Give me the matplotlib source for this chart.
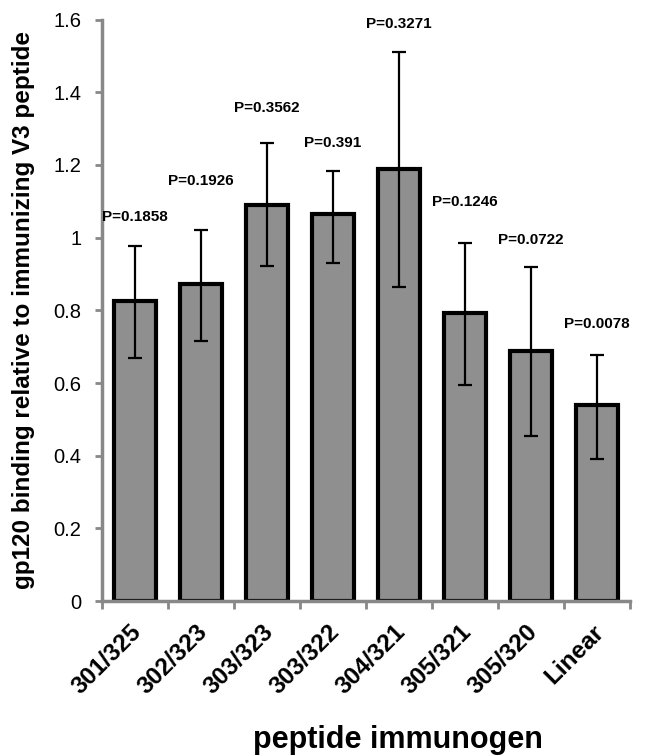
import numpy as np
import matplotlib.pyplot as plt

plt.rcParams['font.family'] = ['Liberation Sans', 'DejaVu Sans']

# data
peptides = ['301/325', '302/323', '303/323', '303/322', '304/321', '305/321', '305/320', 'Linear']
binding = [0.825, 0.873, 1.091, 1.066, 1.19, 0.792, 0.688, 0.54]
err_top = [0.978, 1.02, 1.26, 1.183, 1.51, 0.986, 0.918, 0.678]
err_low = [0.67, 0.715, 0.922, 0.93, 0.864, 0.595, 0.455, 0.39]
p_text = ['P=0.1858', 'P=0.1926', 'P=0.3562', 'P=0.391', 'P=0.3271', 'P=0.1246', 'P=0.0722', 'P=0.0078']
p_y = [1.056, 1.155, 1.357, 1.26, 1.587, 1.097, 0.994, 0.762]

fig = plt.figure(figsize=(6.54, 7.56), dpi=100)
ax = fig.add_axes([0.156, 0.205, 0.807, 0.769])

x = np.arange(len(peptides))
binding = np.array(binding)
yerr = [binding - np.array(err_low), np.array(err_top) - binding]

ax.bar(x, binding, width=0.64, color='#8f8f8f', edgecolor='black', linewidth=3, zorder=2)
ax.errorbar(x, binding, yerr=yerr, fmt='none', ecolor='black', elinewidth=1.6,
            capsize=5, capthick=1.6, zorder=3)

for i in range(len(peptides)):
    ax.text(x[i], p_y[i], p_text[i], ha='center', va='center', fontsize=11, fontweight='bold')

ax.set_xlim(-0.5, len(peptides) - 0.5)
ax.set_ylim(0, 1.6)
ax.set_yticks(np.arange(0, 1.61, 0.2))
ax.set_yticklabels(['0', '0.2', '0.4', '0.6', '0.8', '1', '1.2', '1.4', '1.6'], fontsize=14.5)

# category boundaries as ticks like the original
ax.set_xticks(np.arange(-0.5, len(peptides)), minor=False)
ax.set_xticklabels([])
ax.set_xticks(x + 0.05, minor=True)
ax.set_xticklabels(peptides, minor=True, rotation=45, ha='right', va='center',
                   rotation_mode='anchor', fontsize=17.5, fontweight='bold')
ax.tick_params(axis='x', which='minor', length=0, pad=20)
ax.tick_params(axis='x', which='major', direction='out', length=6, width=2, color='#888888')
ax.tick_params(axis='y', direction='out', length=5, width=2, color='#888888', pad=10)

for side in ['top', 'right']:
    ax.spines[side].set_visible(False)
for side in ['left', 'bottom']:
    ax.spines[side].set_color('#888888')
    ax.spines[side].set_linewidth(2.5)

ax.set_ylabel('gp120 binding relative to immunizing V3 peptide', fontsize=17.5, fontweight='bold')
ax.yaxis.set_label_coords(-0.127, 0.5)
ax.set_xlabel('peptide immunogen', fontsize=22, fontweight='bold')
ax.xaxis.set_label_coords(0.56, -0.213)

fig.savefig('out.png', dpi=100)
